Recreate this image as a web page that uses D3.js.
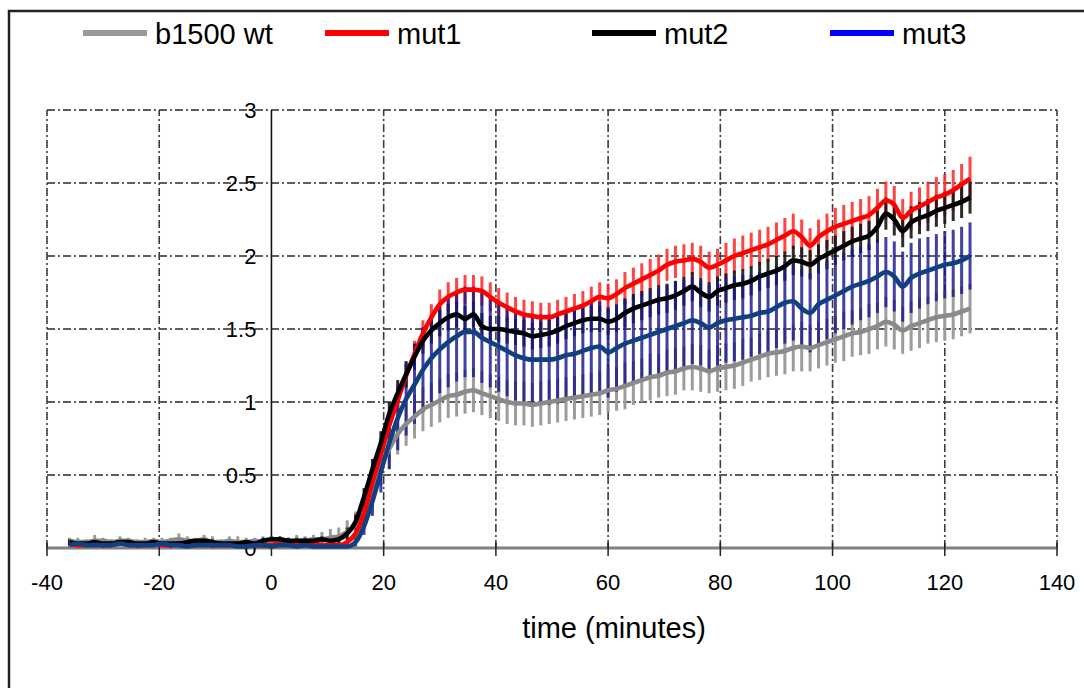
<!DOCTYPE html>
<html>
<head>
<meta charset="utf-8">
<script src="https://cdn.jsdelivr.net/npm/d3@7"></script>
<style>
  body { margin: 0; background: #fff; }
  svg { display: block; }
  text { font-family: "Liberation Sans", Arial, sans-serif; fill: #000; }
</style>
</head>
<body>
<svg id="chart" width="1084" height="688"></svg>
<script>
// Sampling times (minutes)
const time = [
  -36,-34.5,-33,-31.5,-30,-28.5,-27,-25.5,-24,-22.5,
  -21,-19.5,-18,-16.5,-15,-13.5,-12,-10.5,-9,-7.5,
  -6,-4.5,-3,-1.5,0,1.5,3,4.5,6,7.5,
  9,10.5,12,13.5,15,16.5,18,19.5,21,22.5,
  24,25.5,27,28.5,30,31.5,33,34.5,36,37.5,
  39,40.5,42,43.5,45,46.5,48,49.5,51,52.5,
  54,55.5,57,58.5,60,61.5,63,64.5,66,67.5,
  69,70.5,72,73.5,75,76.5,78,79.5,81,82.5,
  84,85.5,87,88.5,90,91.5,93,94.5,96,97.5,
  99,100.5,102,103.5,105,106.5,108,109.5,111,112.5,
  114,115.5,117,118.5,120,121.5,123,124.5
];

const seriesNames = ["b1500 wt", "mut1", "mut2", "mut3"];

// b1500 wt
const wtMean = [
  0.05,0.04,0.04,0.05,0.05,0.04,0.05,0.05,0.04,0.04,
  0.05,0.04,0.05,0.06,0.05,0.05,0.06,0.04,0.04,0.05,
  0.04,0.04,0.05,0.04,0.05,0.05,0.04,0.05,0.05,0.06,
  0.06,0.07,0.08,0.11,0.16,0.24,0.40,0.56,0.68,0.78,
  0.85,0.90,0.95,0.98,1.01,1.04,1.05,1.07,1.08,1.06,
  1.04,1.02,1.00,0.99,0.99,0.98,0.99,1.00,1.01,1.02,
  1.03,1.04,1.05,1.06,1.08,1.09,1.11,1.13,1.15,1.17,
  1.18,1.20,1.21,1.23,1.24,1.23,1.21,1.23,1.24,1.25,
  1.27,1.29,1.31,1.33,1.34,1.35,1.37,1.38,1.37,1.39,
  1.41,1.43,1.45,1.47,1.48,1.50,1.52,1.55,1.53,1.49,
  1.52,1.54,1.56,1.58,1.59,1.60,1.62,1.64
];
const wtErr = [
  0.02,0.03,0.02,0.04,0.02,0.02,0.03,0.02,0.02,0.03,
  0.02,0.03,0.02,0.04,0.03,0.02,0.03,0.04,0.02,0.03,
  0.04,0.03,0.02,0.04,0.03,0.02,0.03,0.04,0.03,0.03,
  0.05,0.06,0.06,0.08,0.09,0.10,0.12,0.13,0.14,0.14,
  0.15,0.15,0.15,0.15,0.15,0.15,0.15,0.15,0.15,0.15,
  0.15,0.15,0.15,0.15,0.15,0.15,0.15,0.15,0.15,0.15,
  0.15,0.15,0.15,0.15,0.15,0.15,0.16,0.15,0.15,0.16,
  0.15,0.16,0.16,0.15,0.16,0.16,0.15,0.16,0.16,0.16,
  0.16,0.15,0.16,0.16,0.16,0.16,0.16,0.17,0.16,0.16,
  0.16,0.16,0.17,0.16,0.16,0.17,0.16,0.17,0.17,0.16,
  0.17,0.17,0.16,0.17,0.17,0.17,0.17,0.17
];

// mut1
const mut1Mean = [
  0.03,0.02,0.02,0.03,0.02,0.02,0.03,0.03,0.02,0.02,
  0.03,0.02,0.02,0.03,0.02,0.02,0.03,0.02,0.02,0.02,
  0.03,0.02,0.02,0.02,0.02,0.03,0.02,0.02,0.02,0.03,
  0.02,0.02,0.02,0.04,0.10,0.24,0.45,0.64,0.84,1.01,
  1.18,1.33,1.47,1.58,1.67,1.72,1.75,1.77,1.77,1.76,
  1.72,1.68,1.65,1.62,1.60,1.59,1.58,1.58,1.60,1.62,
  1.64,1.66,1.69,1.72,1.71,1.74,1.78,1.81,1.84,1.87,
  1.90,1.94,1.96,1.97,1.98,1.96,1.92,1.94,1.97,2.00,
  2.02,2.04,2.06,2.08,2.11,2.14,2.17,2.13,2.07,2.13,
  2.17,2.20,2.22,2.24,2.26,2.28,2.33,2.38,2.35,2.26,
  2.31,2.34,2.37,2.40,2.42,2.45,2.49,2.53
];
const mut1Err = [
  0.01,0.02,0.01,0.01,0.02,0.01,0.01,0.02,0.01,0.01,
  0.02,0.01,0.01,0.02,0.01,0.01,0.01,0.02,0.01,0.01,
  0.01,0.02,0.01,0.01,0.01,0.02,0.01,0.01,0.01,0.01,
  0.01,0.01,0.01,0.02,0.03,0.04,0.05,0.06,0.07,0.08,
  0.08,0.09,0.09,0.09,0.10,0.10,0.10,0.10,0.10,0.10,
  0.10,0.10,0.10,0.10,0.10,0.10,0.10,0.10,0.10,0.10,
  0.10,0.10,0.10,0.10,0.10,0.10,0.11,0.11,0.11,0.11,
  0.11,0.11,0.11,0.11,0.11,0.11,0.11,0.11,0.12,0.12,
  0.12,0.12,0.12,0.12,0.12,0.12,0.12,0.12,0.12,0.12,
  0.12,0.13,0.13,0.13,0.13,0.13,0.13,0.13,0.13,0.13,
  0.13,0.13,0.14,0.14,0.14,0.14,0.14,0.15
];

// mut2
const mut2Mean = [
  0.04,0.03,0.03,0.04,0.03,0.03,0.04,0.04,0.03,0.03,
  0.04,0.03,0.03,0.03,0.04,0.05,0.05,0.04,0.03,0.03,
  0.03,0.04,0.03,0.05,0.06,0.06,0.05,0.05,0.05,0.05,
  0.06,0.05,0.06,0.10,0.18,0.35,0.54,0.72,0.92,1.06,
  1.19,1.31,1.42,1.49,1.54,1.58,1.60,1.57,1.60,1.52,
  1.50,1.50,1.49,1.48,1.47,1.45,1.46,1.47,1.49,1.52,
  1.54,1.56,1.57,1.57,1.55,1.57,1.61,1.64,1.66,1.68,
  1.70,1.71,1.73,1.76,1.79,1.75,1.72,1.76,1.78,1.80,
  1.81,1.83,1.86,1.88,1.90,1.93,1.97,1.96,1.94,1.98,
  2.01,2.04,2.07,2.10,2.12,2.14,2.20,2.29,2.25,2.17,
  2.23,2.26,2.28,2.31,2.33,2.35,2.37,2.40
];
const mut2Err = [
  0.02,0.02,0.01,0.02,0.02,0.01,0.02,0.02,0.01,0.02,
  0.02,0.01,0.02,0.02,0.02,0.01,0.02,0.02,0.01,0.02,
  0.02,0.01,0.02,0.02,0.02,0.02,0.02,0.02,0.02,0.02,
  0.02,0.02,0.03,0.04,0.05,0.06,0.07,0.08,0.08,0.09,
  0.09,0.09,0.09,0.09,0.09,0.09,0.09,0.09,0.09,0.09,
  0.09,0.09,0.09,0.09,0.09,0.09,0.09,0.09,0.09,0.09,
  0.09,0.09,0.09,0.09,0.09,0.09,0.10,0.10,0.10,0.10,
  0.10,0.10,0.10,0.10,0.10,0.10,0.10,0.10,0.10,0.10,
  0.10,0.10,0.10,0.10,0.10,0.10,0.10,0.10,0.10,0.10,
  0.10,0.10,0.10,0.10,0.10,0.10,0.11,0.11,0.11,0.11,
  0.11,0.11,0.11,0.11,0.11,0.11,0.11,0.11
];

// mut3
const mut3Mean = [
  0.02,0.03,0.02,0.02,0.02,0.02,0.03,0.02,0.02,0.02,
  0.02,0.03,0.02,0.02,0.01,0.02,0.02,0.02,0.02,0.02,
  0.01,0.01,0.02,0.02,0.01,0.02,0.02,0.01,0.02,0.01,
  0.01,0.01,0.01,0.01,0.04,0.15,0.32,0.52,0.72,0.89,
  1.02,1.12,1.22,1.30,1.36,1.41,1.45,1.48,1.48,1.44,
  1.41,1.38,1.35,1.32,1.30,1.29,1.29,1.29,1.30,1.32,
  1.33,1.35,1.37,1.38,1.34,1.37,1.40,1.42,1.44,1.46,
  1.48,1.50,1.52,1.54,1.56,1.54,1.51,1.54,1.56,1.57,
  1.58,1.59,1.61,1.62,1.65,1.68,1.69,1.64,1.61,1.67,
  1.70,1.73,1.76,1.79,1.81,1.83,1.86,1.89,1.86,1.79,
  1.85,1.88,1.90,1.92,1.94,1.95,1.97,2.00
];
const mut3Err = [
  0.01,0.02,0.01,0.01,0.02,0.01,0.01,0.01,0.02,0.01,
  0.01,0.01,0.02,0.01,0.01,0.01,0.01,0.02,0.01,0.01,
  0.01,0.01,0.01,0.02,0.01,0.01,0.01,0.01,0.01,0.01,
  0.01,0.01,0.01,0.01,0.03,0.06,0.10,0.14,0.18,0.22,
  0.25,0.27,0.29,0.30,0.30,0.31,0.31,0.31,0.31,0.31,
  0.31,0.31,0.31,0.31,0.31,0.31,0.31,0.31,0.31,0.31,
  0.31,0.31,0.31,0.31,0.31,0.30,0.30,0.30,0.30,0.30,
  0.30,0.30,0.30,0.30,0.30,0.29,0.29,0.29,0.29,0.29,
  0.29,0.28,0.28,0.28,0.28,0.28,0.27,0.27,0.27,0.27,
  0.27,0.26,0.26,0.26,0.25,0.25,0.25,0.24,0.24,0.24,
  0.24,0.24,0.23,0.23,0.23,0.23,0.23,0.23
];

const xTicks = [-40, -20, 0, 20, 40, 60, 80, 100, 120, 140];
const yTicks = [0, 0.5, 1, 1.5, 2, 2.5, 3];
const xTitle = "time (minutes)";

const series = [
  { name: seriesNames[0], mean: wtMean,   err: wtErr,   line: "#8a8a8a", bar: "#9c9c9c", barOpacity: 1,    key: "#999999" },
  { name: seriesNames[1], mean: mut1Mean, err: mut1Err, line: "#ff0000", bar: "#ff3030", barOpacity: 0.9,  key: "#ff0000" },
  { name: seriesNames[2], mean: mut2Mean, err: mut2Err, line: "#000000", bar: "#151515", barOpacity: 0.9,  key: "#000000" },
  { name: seriesNames[3], mean: mut3Mean, err: mut3Err, line: "#123f80", bar: "#17178c", barOpacity: 0.82, key: "#0000ff" }
];

const svg = d3.select("#chart");

// outer frame
svg.append("rect")
  .attr("x", 9).attr("y", 11).attr("width", 1100).attr("height", 700)
  .attr("fill", "none").attr("stroke", "#222").attr("stroke-width", 2.5);

const x = d3.scaleLinear().domain([-40, 140]).range([47, 1057]);
const y = d3.scaleLinear().domain([0, 3]).range([548, 110]);

const dashDot = "8,3,2,3";

// dash-dot grid
const grid = svg.append("g");
grid.selectAll("line.h").data(yTicks.filter(v => v > 0)).join("line")
  .attr("x1", x(-40)).attr("x2", x(140))
  .attr("y1", d => y(d)).attr("y2", d => y(d))
  .attr("stroke", "#2a2a2a").attr("stroke-width", 1.6).attr("stroke-dasharray", dashDot);
grid.selectAll("line.v").data(xTicks.filter(v => v !== 0)).join("line")
  .attr("x1", d => x(d)).attr("x2", d => x(d))
  .attr("y1", y(0)).attr("y2", y(3))
  .attr("stroke", "#3a3a3a").attr("stroke-width", 1.6).attr("stroke-dasharray", dashDot);

// x axis along value 0
svg.append("line")
  .attr("x1", x(-40)).attr("x2", x(140)).attr("y1", y(0)).attr("y2", y(0))
  .attr("stroke", "#808080").attr("stroke-width", 3);
svg.append("g").selectAll("line").data(xTicks).join("line")
  .attr("x1", d => x(d)).attr("x2", d => x(d))
  .attr("y1", y(0) - 5).attr("y2", y(0) + 8)
  .attr("stroke", "#222").attr("stroke-width", 1.5);

// y axis through time 0
svg.append("line")
  .attr("x1", x(0)).attr("x2", x(0)).attr("y1", y(0)).attr("y2", y(3))
  .attr("stroke", "#111").attr("stroke-width", 1.6);

// error bars
const bars = svg.append("g");
series.forEach(s => {
  bars.append("g").selectAll("line").data(time).join("line")
    .attr("x1", (t) => x(t)).attr("x2", (t) => x(t))
    .attr("y1", (t, i) => y(s.mean[i] - s.err[i]))
    .attr("y2", (t, i) => y(s.mean[i] + s.err[i]))
    .attr("stroke", s.bar).attr("stroke-width", 3)
    .attr("stroke-opacity", s.barOpacity);
});

// y tick labels (sit over the grid)
svg.append("g").selectAll("text").data(yTicks).join("text")
  .attr("x", x(0) - 15).attr("y", d => y(d))
  .attr("dy", "0.36em").attr("text-anchor", "end")
  .attr("font-size", 22)
  .text(d => d3.format("")(d));

// mean lines
const lineGen = d3.line().x((t) => x(t)).curve(d3.curveMonotoneX);
series.forEach(s => {
  svg.append("path")
    .attr("d", lineGen.y((t, i) => y(s.mean[i]))(time))
    .attr("fill", "none").attr("stroke", s.line).attr("stroke-width", 4.6)
    .attr("stroke-linejoin", "round");
});

// x tick labels
svg.append("g").selectAll("text").data(xTicks).join("text")
  .attr("x", d => x(d)).attr("y", 582).attr("dy", "0.36em")
  .attr("text-anchor", "middle").attr("font-size", 22)
  .text(d => d);

// axis title
svg.append("text")
  .attr("x", 614).attr("y", 628).attr("dy", "0.36em")
  .attr("text-anchor", "middle").attr("font-size", 29)
  .text(xTitle);

// legend
const legendX = [83, 325, 592, 830];
const legend = svg.append("g");
series.forEach((s, k) => {
  legend.append("line")
    .attr("x1", legendX[k]).attr("x2", legendX[k] + 64)
    .attr("y1", 33).attr("y2", 33)
    .attr("stroke", s.key).attr("stroke-width", 6);
  legend.append("text")
    .attr("x", legendX[k] + 72).attr("y", 34).attr("dy", "0.36em")
    .attr("font-size", 29)
    .text(s.name);
});
</script>
</body>
</html>
